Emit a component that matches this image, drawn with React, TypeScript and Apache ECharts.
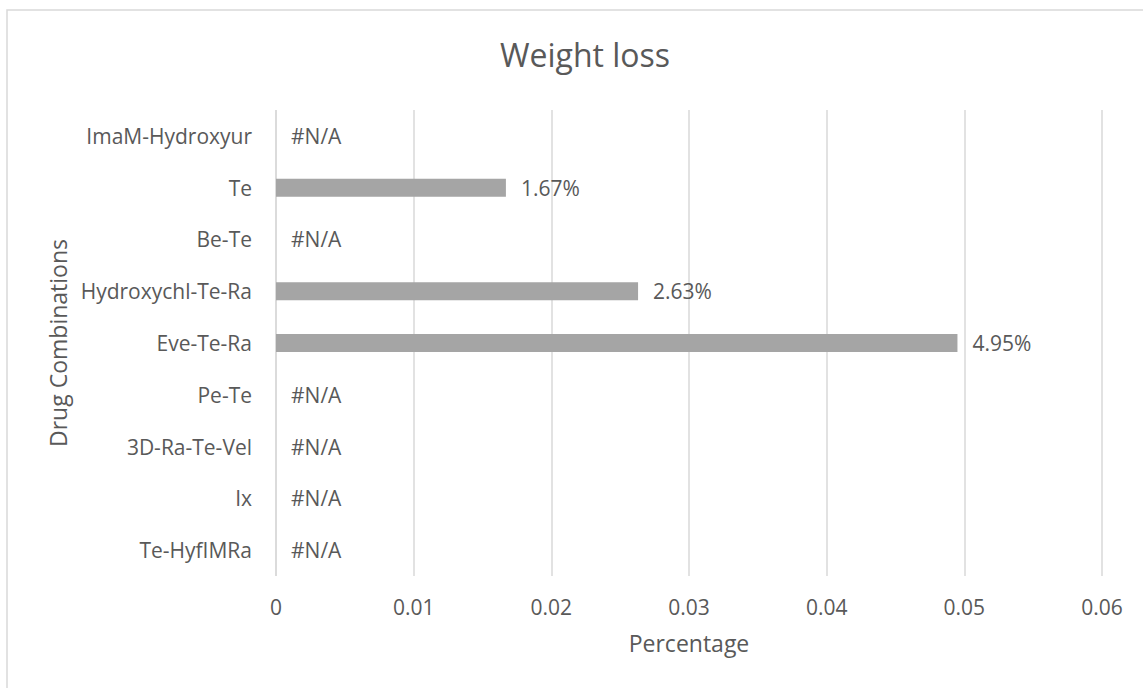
import React, { useEffect, useRef } from "react";
import * as echarts from "echarts";

const categories = [
  "Te-HyfIMRa",
  "Ix",
  "3D-Ra-Te-Vel",
  "Pe-Te",
  "Eve-Te-Ra",
  "Hydroxychl-Te-Ra",
  "Be-Te",
  "Te",
  "ImaM-Hydroxyur",
];
// null = #N/A
const values: (number | null)[] = [null, null, null, null, 0.0495, 0.0263, null, 0.0167, null];
const xTicks = { min: 0, max: 0.06, interval: 0.01 };

const FONT = "Open Sans";
const TXT = "#595959";

export default function App() {
  const ref = useRef<HTMLDivElement>(null);
  useEffect(() => {
    const chart = echarts.init(ref.current!, undefined, { renderer: "svg" });
    const data = values.map((v) => ({
      value: v === null ? 0 : v,
      na: v === null,
    }));
    chart.setOption({
      animation: false,
      textStyle: { fontFamily: FONT },
      title: {
        text: "Weight loss",
        left: 580,
        top: 33,
        textAlign: "center",
        textStyle: { fontFamily: FONT, fontSize: 32, fontWeight: "normal", color: TXT },
      },
      grid: { left: 276, right: 41, top: 110, bottom: 112, containLabel: false },
      xAxis: {
        type: "value",
        min: xTicks.min,
        max: xTicks.max,
        interval: xTicks.interval,
        name: "Percentage",
        nameLocation: "middle",
        nameGap: 55,
        nameTextStyle: { fontFamily: FONT, fontSize: 23, color: TXT },
        axisLine: { show: false },
        axisTick: { show: false },
        axisLabel: {
          fontFamily: FONT,
          fontSize: 21,
          color: TXT,
          margin: 20,
          formatter: (v: number) => String(Number(v.toFixed(2))),
        },
        splitLine: { show: true, lineStyle: { color: "#d9d9d9", width: 1.5 } },
      },
      yAxis: {
        type: "category",
        data: categories,
        name: "Drug Combinations",
        nameLocation: "middle",
        nameGap: 205,
        nameRotate: 90,
        nameTextStyle: { fontFamily: FONT, fontSize: 23, color: TXT },
        axisLine: { show: false },
        axisTick: { show: false },
        axisLabel: { fontFamily: FONT, fontSize: 21, color: TXT, margin: 24 },
        splitLine: { show: false },
      },
      series: [
        {
          type: "bar",
          data,
          barWidth: 18,
          itemStyle: { color: "#a5a5a5" },
          label: {
            show: true,
            position: "right",
            distance: 15,
            fontFamily: FONT,
            fontSize: 21,
            color: TXT,
            formatter: (p: any) =>
              p.data.na ? "#N/A" : (p.data.value * 100).toFixed(2) + "%",
          },
        },
      ],
      graphic: [
        {
          type: "line",
          shape: { x1: 276, y1: 110, x2: 276, y2: 576 },
          style: { stroke: "#d9d9d9", lineWidth: 1.5 },
          silent: true,
        },
        {
          type: "rect",
          shape: { x: 7, y: 10, width: 1160, height: 700 },
          style: { fill: "none", stroke: "#d9d9d9", lineWidth: 1.5 },
          silent: true,
        },
      ],
    });
    return () => chart.dispose();
  }, []);
  return (
    <div
      ref={ref}
      style={{ position: "fixed", left: 0, top: 0, width: 1143, height: 688, background: "#fff" }}
    />
  );
}
